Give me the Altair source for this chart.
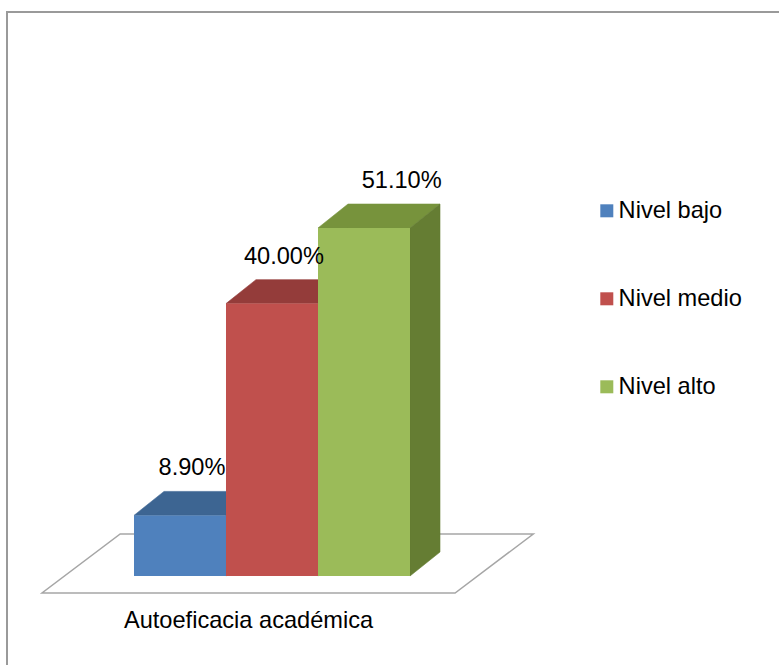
import altair as alt
import pandas as pd

# ---- data -------------------------------------------------------------
categories = ["Nivel bajo", "Nivel medio", "Nivel alto"]
percentages = [8.9, 40.0, 51.1]
value_labels = ["8.90%", "40.00%", "51.10%"]
group_label = "Autoeficacia académica"

# ---- styling ----------------------------------------------------------
front_colors = ["#4F81BD", "#C0504D", "#9BBB59"]
top_colors = ["#3D6592", "#943C3A", "#77933C"]
side_colors = ["#33547C", "#7E3230", "#657D33"]
label_nudge = [0.63, 0.63, 0.91]      # label centre, in bar widths from the bar's left edge
FONT = "Liberation Sans"
FONT_SIZE = 23.6

# oblique projection of the bar depth (x in bar widths, y in percent units)
DEPTH_X = 0.326
DEPTH_Y = 3.52
# floor plate around the bars
FLOOR_FRONT_Y, FLOOR_BACK_Y = -2.5, 6.17
FLOOR_LEFT, FLOOR_RIGHT = -1.0, 3.49
FLOOR_SHIFT = 0.85

X_DOMAIN = [-1.3804, 7.0761]
Y_DOMAIN = [-13.95, 82.82]

# ---- tables built from the arrays -------------------------------------
fronts = pd.DataFrame({
    "nivel": categories,
    "x0": list(range(len(categories))),
    "x1": [i + 1 for i in range(len(categories))],
    "v": percentages,
})

top_rows, side_rows = [], []
for i, (cat, v) in enumerate(zip(categories, percentages)):
    for x, lo, hi in [(i, v, v), (i + DEPTH_X, v, v + DEPTH_Y),
                      (i + 1, v, v + DEPTH_Y), (i + 1 + DEPTH_X, v + DEPTH_Y, v + DEPTH_Y)]:
        top_rows.append({"nivel": cat, "x": x, "lo": lo, "hi": hi, "fill": top_colors[i]})
    for x, lo, hi in [(i + 1, 0, v), (i + 1 + DEPTH_X, DEPTH_Y, v + DEPTH_Y)]:
        side_rows.append({"nivel": cat, "x": x, "lo": lo, "hi": hi, "fill": side_colors[i]})
tops = pd.DataFrame(top_rows)
sides = pd.DataFrame(side_rows)

floor = pd.DataFrame({
    "x": [FLOOR_LEFT, FLOOR_LEFT + FLOOR_SHIFT, FLOOR_RIGHT, FLOOR_RIGHT + FLOOR_SHIFT],
    "lo": [FLOOR_FRONT_Y, FLOOR_FRONT_Y, FLOOR_FRONT_Y, FLOOR_BACK_Y],
    "hi": [FLOOR_FRONT_Y, FLOOR_BACK_Y, FLOOR_BACK_Y, FLOOR_BACK_Y],
})

labels = pd.DataFrame({
    "x": [i + n for i, n in enumerate(label_nudge)],
    "y": [v + DEPTH_Y for v in percentages],
    "text": value_labels,
})

caption = pd.DataFrame({
    "x": [(FLOOR_LEFT + FLOOR_RIGHT) / 2],
    "y": [FLOOR_FRONT_Y],
    "text": [group_label],
})

xs = alt.Scale(domain=X_DOMAIN, nice=False, zero=False)
ys = alt.Scale(domain=Y_DOMAIN, nice=False, zero=False)

def X(field):
    return alt.X(field, type="quantitative", scale=xs, axis=None)

def Y(field):
    return alt.Y(field, type="quantitative", scale=ys, axis=None, stack=None)

floor_layer = alt.Chart(floor).mark_area(
    fill="white", stroke="#A6A6A6", strokeWidth=1.5
).encode(x=X("x"), y=Y("lo"), y2="hi")

top_layer = alt.Chart(tops).mark_area(strokeWidth=0.6).encode(
    x=X("x"), y=Y("lo"), y2="hi", detail="nivel:N",
    fill=alt.Fill("fill:N", scale=None), stroke=alt.Stroke("fill:N", scale=None),
)

side_layer = alt.Chart(sides).mark_area(strokeWidth=0.6).encode(
    x=X("x"), y=Y("lo"), y2="hi", detail="nivel:N",
    fill=alt.Fill("fill:N", scale=None), stroke=alt.Stroke("fill:N", scale=None),
)

front_layer = alt.Chart(fronts).mark_rect().encode(
    x=X("x0"), x2="x1", y=Y("v"), y2=alt.Y2(datum=0),
    color=alt.Color(
        "nivel:N",
        scale=alt.Scale(domain=categories, range=front_colors),
        legend=alt.Legend(
            title=None, orient="none", legendX=588, legendY=187,
            symbolType="square", symbolSize=169, symbolStrokeWidth=0,
            labelFont=FONT, labelFontSize=FONT_SIZE, labelColor="black",
            labelOffset=0, rowPadding=63, padding=0, labelLimit=300,
        ),
    ),
)

label_layer = alt.Chart(labels).mark_text(
    font=FONT, fontSize=FONT_SIZE, color="black", baseline="alphabetic", dy=-16
).encode(x=X("x"), y=Y("y"), text="text:N")

caption_layer = alt.Chart(caption).mark_text(
    font=FONT, fontSize=FONT_SIZE, color="black", baseline="alphabetic", dy=35
).encode(x=X("x"), y=Y("y"), text="text:N")

chart = alt.layer(
    floor_layer, top_layer, side_layer, front_layer, label_layer, caption_layer
).properties(
    width=778, height=659,
    autosize=alt.AutoSizeParams(type="none"),
    padding={"left": 7, "top": 12, "right": -6, "bottom": -6},
    background="white",
).configure_view(stroke="#9A9A9A", strokeWidth=2)

chart.save("out.html", embed_options={"renderer": "svg", "actions": False})
